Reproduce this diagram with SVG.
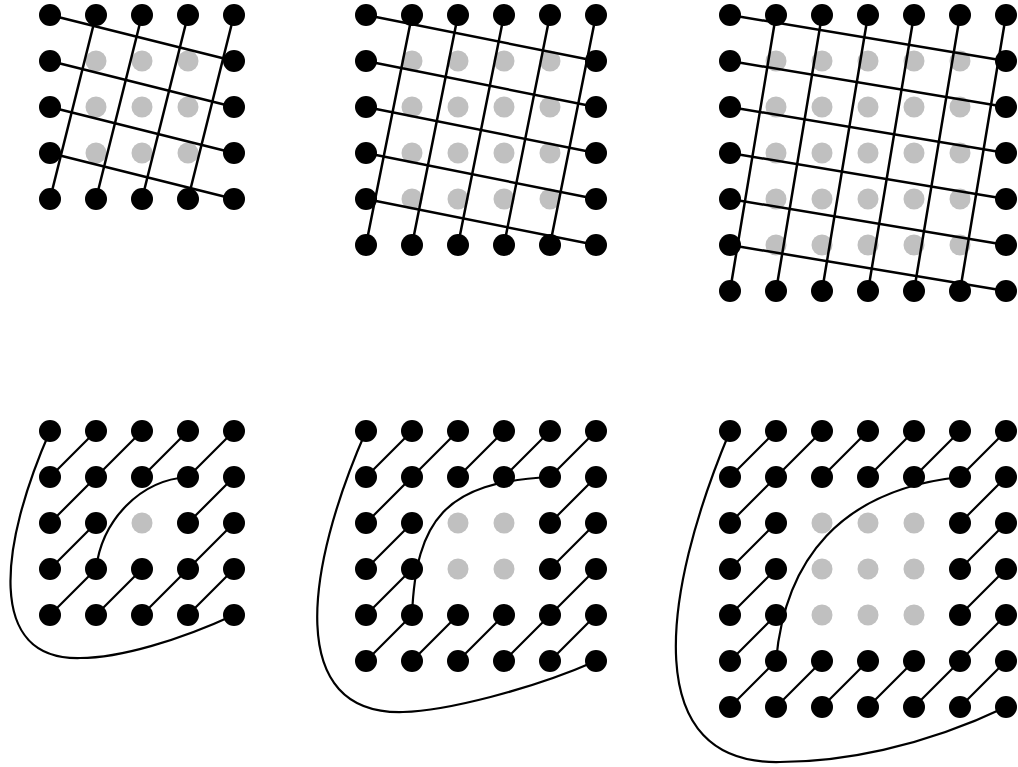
<svg xmlns="http://www.w3.org/2000/svg" width="1018" height="767" viewBox="0 0 1018 767">
<style>
.b{fill:#000}
.g{fill:#c0c0c0}
.t{stroke:#000;stroke-width:2.5;fill:none;stroke-linecap:round}
.d{stroke:#000;stroke-width:2.2;fill:none;stroke-linecap:round}
.c{stroke:#000;stroke-width:2.2;fill:none}
</style>
<rect width="1018" height="767" fill="#fff"/>
<defs>
<circle id="bd" r="11" class="b"/>
<circle id="gd" r="10.5" class="g"/>
</defs>
<!-- Top grid 1 (5x5) -->
<g id="top1">
<g id="t1-r0"><use href="#bd" x="50" y="15"/><use href="#bd" x="96" y="15"/><use href="#bd" x="142" y="15"/><use href="#bd" x="188" y="15"/><use href="#bd" x="234" y="15"/></g>
<g id="t1-r1"><use href="#bd" x="50" y="61"/><use href="#gd" x="96" y="61"/><use href="#gd" x="142" y="61"/><use href="#gd" x="188" y="61"/><use href="#bd" x="234" y="61"/></g>
<g id="t1-r2"><use href="#bd" x="50" y="107"/><use href="#gd" x="96" y="107"/><use href="#gd" x="142" y="107"/><use href="#gd" x="188" y="107"/><use href="#bd" x="234" y="107"/></g>
<g id="t1-r3"><use href="#bd" x="50" y="153"/><use href="#gd" x="96" y="153"/><use href="#gd" x="142" y="153"/><use href="#gd" x="188" y="153"/><use href="#bd" x="234" y="153"/></g>
<g id="t1-r4"><use href="#bd" x="50" y="199"/><use href="#bd" x="96" y="199"/><use href="#bd" x="142" y="199"/><use href="#bd" x="188" y="199"/><use href="#bd" x="234" y="199"/></g>
</g>
<!-- Top grid 2 (6x6) -->
<g id="top2">
<g id="t2-r0"><use href="#bd" x="366" y="15"/><use href="#bd" x="412" y="15"/><use href="#bd" x="458" y="15"/><use href="#bd" x="504" y="15"/><use href="#bd" x="550" y="15"/><use href="#bd" x="596" y="15"/></g>
<g id="t2-r1"><use href="#bd" x="366" y="61"/><use href="#gd" x="412" y="61"/><use href="#gd" x="458" y="61"/><use href="#gd" x="504" y="61"/><use href="#gd" x="550" y="61"/><use href="#bd" x="596" y="61"/></g>
<g id="t2-r2"><use href="#bd" x="366" y="107"/><use href="#gd" x="412" y="107"/><use href="#gd" x="458" y="107"/><use href="#gd" x="504" y="107"/><use href="#gd" x="550" y="107"/><use href="#bd" x="596" y="107"/></g>
<g id="t2-r3"><use href="#bd" x="366" y="153"/><use href="#gd" x="412" y="153"/><use href="#gd" x="458" y="153"/><use href="#gd" x="504" y="153"/><use href="#gd" x="550" y="153"/><use href="#bd" x="596" y="153"/></g>
<g id="t2-r4"><use href="#bd" x="366" y="199"/><use href="#gd" x="412" y="199"/><use href="#gd" x="458" y="199"/><use href="#gd" x="504" y="199"/><use href="#gd" x="550" y="199"/><use href="#bd" x="596" y="199"/></g>
<g id="t2-r5"><use href="#bd" x="366" y="245"/><use href="#bd" x="412" y="245"/><use href="#bd" x="458" y="245"/><use href="#bd" x="504" y="245"/><use href="#bd" x="550" y="245"/><use href="#bd" x="596" y="245"/></g>
</g>
<!-- Top grid 3 (7x7) -->
<g id="top3">
<g id="t3-r0"><use href="#bd" x="730" y="15"/><use href="#bd" x="776" y="15"/><use href="#bd" x="822" y="15"/><use href="#bd" x="868" y="15"/><use href="#bd" x="914" y="15"/><use href="#bd" x="960" y="15"/><use href="#bd" x="1006" y="15"/></g>
<g id="t3-r1"><use href="#bd" x="730" y="61"/><use href="#gd" x="776" y="61"/><use href="#gd" x="822" y="61"/><use href="#gd" x="868" y="61"/><use href="#gd" x="914" y="61"/><use href="#gd" x="960" y="61"/><use href="#bd" x="1006" y="61"/></g>
<g id="t3-r2"><use href="#bd" x="730" y="107"/><use href="#gd" x="776" y="107"/><use href="#gd" x="822" y="107"/><use href="#gd" x="868" y="107"/><use href="#gd" x="914" y="107"/><use href="#gd" x="960" y="107"/><use href="#bd" x="1006" y="107"/></g>
<g id="t3-r3"><use href="#bd" x="730" y="153"/><use href="#gd" x="776" y="153"/><use href="#gd" x="822" y="153"/><use href="#gd" x="868" y="153"/><use href="#gd" x="914" y="153"/><use href="#gd" x="960" y="153"/><use href="#bd" x="1006" y="153"/></g>
<g id="t3-r4"><use href="#bd" x="730" y="199"/><use href="#gd" x="776" y="199"/><use href="#gd" x="822" y="199"/><use href="#gd" x="868" y="199"/><use href="#gd" x="914" y="199"/><use href="#gd" x="960" y="199"/><use href="#bd" x="1006" y="199"/></g>
<g id="t3-r5"><use href="#bd" x="730" y="245"/><use href="#gd" x="776" y="245"/><use href="#gd" x="822" y="245"/><use href="#gd" x="868" y="245"/><use href="#gd" x="914" y="245"/><use href="#gd" x="960" y="245"/><use href="#bd" x="1006" y="245"/></g>
<g id="t3-r6"><use href="#bd" x="730" y="291"/><use href="#bd" x="776" y="291"/><use href="#bd" x="822" y="291"/><use href="#bd" x="868" y="291"/><use href="#bd" x="914" y="291"/><use href="#bd" x="960" y="291"/><use href="#bd" x="1006" y="291"/></g>
</g>
<!-- Bottom grid 1 (5x5) -->
<g id="bot1">
<g id="b1-r0"><use href="#bd" x="50" y="431"/><use href="#bd" x="96" y="431"/><use href="#bd" x="142" y="431"/><use href="#bd" x="188" y="431"/><use href="#bd" x="234" y="431"/></g>
<g id="b1-r1"><use href="#bd" x="50" y="477"/><use href="#bd" x="96" y="477"/><use href="#bd" x="142" y="477"/><use href="#bd" x="188" y="477"/><use href="#bd" x="234" y="477"/></g>
<g id="b1-r2"><use href="#bd" x="50" y="523"/><use href="#bd" x="96" y="523"/><use href="#gd" x="142" y="523"/><use href="#bd" x="188" y="523"/><use href="#bd" x="234" y="523"/></g>
<g id="b1-r3"><use href="#bd" x="50" y="569"/><use href="#bd" x="96" y="569"/><use href="#bd" x="142" y="569"/><use href="#bd" x="188" y="569"/><use href="#bd" x="234" y="569"/></g>
<g id="b1-r4"><use href="#bd" x="50" y="615"/><use href="#bd" x="96" y="615"/><use href="#bd" x="142" y="615"/><use href="#bd" x="188" y="615"/><use href="#bd" x="234" y="615"/></g>
</g>
<!-- Bottom grid 2 (6x6) -->
<g id="bot2">
<g id="b2-r0"><use href="#bd" x="366" y="431"/><use href="#bd" x="412" y="431"/><use href="#bd" x="458" y="431"/><use href="#bd" x="504" y="431"/><use href="#bd" x="550" y="431"/><use href="#bd" x="596" y="431"/></g>
<g id="b2-r1"><use href="#bd" x="366" y="477"/><use href="#bd" x="412" y="477"/><use href="#bd" x="458" y="477"/><use href="#bd" x="504" y="477"/><use href="#bd" x="550" y="477"/><use href="#bd" x="596" y="477"/></g>
<g id="b2-r2"><use href="#bd" x="366" y="523"/><use href="#bd" x="412" y="523"/><use href="#gd" x="458" y="523"/><use href="#gd" x="504" y="523"/><use href="#bd" x="550" y="523"/><use href="#bd" x="596" y="523"/></g>
<g id="b2-r3"><use href="#bd" x="366" y="569"/><use href="#bd" x="412" y="569"/><use href="#gd" x="458" y="569"/><use href="#gd" x="504" y="569"/><use href="#bd" x="550" y="569"/><use href="#bd" x="596" y="569"/></g>
<g id="b2-r4"><use href="#bd" x="366" y="615"/><use href="#bd" x="412" y="615"/><use href="#bd" x="458" y="615"/><use href="#bd" x="504" y="615"/><use href="#bd" x="550" y="615"/><use href="#bd" x="596" y="615"/></g>
<g id="b2-r5"><use href="#bd" x="366" y="661"/><use href="#bd" x="412" y="661"/><use href="#bd" x="458" y="661"/><use href="#bd" x="504" y="661"/><use href="#bd" x="550" y="661"/><use href="#bd" x="596" y="661"/></g>
</g>
<!-- Bottom grid 3 (7x7) -->
<g id="bot3">
<g id="b3-r0"><use href="#bd" x="730" y="431"/><use href="#bd" x="776" y="431"/><use href="#bd" x="822" y="431"/><use href="#bd" x="868" y="431"/><use href="#bd" x="914" y="431"/><use href="#bd" x="960" y="431"/><use href="#bd" x="1006" y="431"/></g>
<g id="b3-r1"><use href="#bd" x="730" y="477"/><use href="#bd" x="776" y="477"/><use href="#bd" x="822" y="477"/><use href="#bd" x="868" y="477"/><use href="#bd" x="914" y="477"/><use href="#bd" x="960" y="477"/><use href="#bd" x="1006" y="477"/></g>
<g id="b3-r2"><use href="#bd" x="730" y="523"/><use href="#bd" x="776" y="523"/><use href="#gd" x="822" y="523"/><use href="#gd" x="868" y="523"/><use href="#gd" x="914" y="523"/><use href="#bd" x="960" y="523"/><use href="#bd" x="1006" y="523"/></g>
<g id="b3-r3"><use href="#bd" x="730" y="569"/><use href="#bd" x="776" y="569"/><use href="#gd" x="822" y="569"/><use href="#gd" x="868" y="569"/><use href="#gd" x="914" y="569"/><use href="#bd" x="960" y="569"/><use href="#bd" x="1006" y="569"/></g>
<g id="b3-r4"><use href="#bd" x="730" y="615"/><use href="#bd" x="776" y="615"/><use href="#gd" x="822" y="615"/><use href="#gd" x="868" y="615"/><use href="#gd" x="914" y="615"/><use href="#bd" x="960" y="615"/><use href="#bd" x="1006" y="615"/></g>
<g id="b3-r5"><use href="#bd" x="730" y="661"/><use href="#bd" x="776" y="661"/><use href="#bd" x="822" y="661"/><use href="#bd" x="868" y="661"/><use href="#bd" x="914" y="661"/><use href="#bd" x="960" y="661"/><use href="#bd" x="1006" y="661"/></g>
<g id="b3-r6"><use href="#bd" x="730" y="707"/><use href="#bd" x="776" y="707"/><use href="#bd" x="822" y="707"/><use href="#bd" x="868" y="707"/><use href="#bd" x="914" y="707"/><use href="#bd" x="960" y="707"/><use href="#bd" x="1006" y="707"/></g>
</g>
<!-- Connectors -->
<g id="connectors">
<g id="top1-lines" class="t">
<path d="M50,15L234,61M50,61L234,107M50,107L234,153M50,153L234,199"/>
<path d="M96,15L50,199M142,15L96,199M188,15L142,199M234,15L188,199"/>
</g>
<g id="top2-lines" class="t">
<path d="M366,15L596,61M366,61L596,107M366,107L596,153M366,153L596,199M366,199L596,245"/>
<path d="M412,15L366,245M458,15L412,245M504,15L458,245M550,15L504,245M596,15L550,245"/>
</g>
<g id="top3-lines" class="t">
<path d="M730,15L1006,61M730,61L1006,107M730,107L1006,153M730,153L1006,199M730,199L1006,245M730,245L1006,291"/>
<path d="M776,15L730,291M822,15L776,291M868,15L822,291M914,15L868,291M960,15L914,291M1006,15L960,291"/>
</g>
<g id="bot1-lines">
<path class="d" d="M50,477L96,431M96,477L142,431M142,477L188,431M188,477L234,431M50,523L96,477M188,523L234,477M50,569L96,523M188,569L234,523M50,615L96,569M96,615L142,569M142,615L188,569M188,615L234,569"/>
<path class="c" d="M96,569C102,520 140,480 188,477"/>
<path class="c" d="M50,431C0,545 -15,660 80,658C120,658 180,640 234,615"/>
</g>
<g id="bot2-lines">
<path class="d" d="M366,477L412,431M412,477L458,431M458,477L504,431M504,477L550,431M550,477L596,431M366,523L412,477M550,523L596,477M366,569L412,523M550,569L596,523M366,615L412,569M550,615L596,569M366,661L412,615M412,661L458,615M458,661L504,615M504,661L550,615M550,661L596,615"/>
<path class="c" d="M412,615C416,520 445,482 550,477"/>
<path class="c" d="M366,431C305,570 285,715 403,712C445,711 530,690 596,661"/>
</g>
<g id="bot3-lines">
<path class="d" d="M730,477L776,431M776,477L822,431M822,477L868,431M868,477L914,431M914,477L960,431M960,477L1006,431M730,523L776,477M960,523L1006,477M730,569L776,523M960,569L1006,523M730,615L776,569M960,615L1006,569M730,661L776,615M960,661L1006,615M730,707L776,661M776,707L822,661M822,707L868,661M868,707L914,661M914,707L960,661M960,707L1006,661"/>
<path class="c" d="M776,661C785,560 840,490 960,477"/>
<path class="c" d="M730,431C660,598 640,765 780,762C840,762 920,748 1006,707"/>
</g>
</g>
</svg>
